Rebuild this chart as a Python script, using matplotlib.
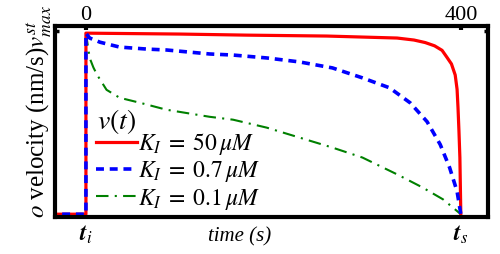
import matplotlib
matplotlib.use("Agg")
import matplotlib.pyplot as plt

plt.rcParams["font.family"] = ["Liberation Serif", "DejaVu Serif"]
plt.rcParams["mathtext.fontset"] = "stix"

# time (s) and normalised velocity
t_red = [-40, 0, 0, 100, 172, 257, 332, 350, 362, 372, 380, 385, 390, 394,
         396, 397, 398, 399, 400]
v_red = [0, 0, 1.0, 0.995, 0.989, 0.984, 0.973, 0.962, 0.948, 0.93, 0.905,
         0.868, 0.83, 0.769, 0.69, 0.588, 0.46, 0.313, 0.0]

t_blue = [-40, 0, 0, 4, 15, 36, 65, 86, 132, 157, 193, 228, 263, 295, 324, 346,
          364, 378, 388, 396, 400]
v_blue = [0, 0, 1.0, 0.973, 0.95, 0.923, 0.912, 0.907, 0.885, 0.879, 0.863,
          0.841, 0.808, 0.753, 0.698, 0.615, 0.511, 0.385, 0.258, 0.126, 0.0]

t_green = [0, 4, 8, 12, 22, 36, 58, 86, 132, 157, 193, 228, 263, 295, 332, 359,
           381, 400]
v_green = [1.0, 0.863, 0.81, 0.769, 0.687, 0.643, 0.615, 0.577, 0.538, 0.522,
           0.478, 0.423, 0.368, 0.313, 0.22, 0.148, 0.082, 0.0]

labels = [r"$K_I\;=\;50\,\mu M$", r"$K_I\;=\;0.7\,\mu M$", r"$K_I\;=\;0.1\,\mu M$"]
top_ticks = [0, 400]
t_start, t_end = 0, 400

fig = plt.figure(figsize=(5.0, 2.54), dpi=100)
ax = fig.add_axes([0.11, 0.146, 0.866, 0.752])

ax.plot(t_green, v_green, color="green", linewidth=1.5,
        linestyle=(0, (6, 3, 1, 3)), label=labels[2])
ax.plot(t_red, v_red, color="red", linewidth=2.3, label=labels[0])
ax.plot(t_blue, v_blue, color="blue", linewidth=2.6,
        linestyle=(0, (2.2, 1.6)), label=labels[1])

ax.set_xlim(-33, 429)
ax.set_ylim(-0.015, 1.04)

for s in ax.spines.values():
    s.set_linewidth(3)

ax.xaxis.tick_top()
ax.set_xticks(top_ticks)
ax.tick_params(axis="x", direction="in", length=3, width=3, labelsize=16, pad=1)
ax.set_yticks([1.01])
ax.tick_params(axis="y", direction="in", length=3, width=2.5, left=True,
               right=True, labelleft=False)

ax.text(t_start, -0.05, r"$\mathbfit{t}_i$", ha="center", va="top", fontsize=17)
ax.text(t_end, -0.05, r"$\mathbfit{t}_s$", ha="center", va="top", fontsize=17)
ax.text(0.5 * (t_start + t_end) - 36, -0.07, "time (s)", ha="center", va="top",
        fontsize=15, style="italic")

fig.text(39 / 500, 1 - 218 / 254, r"$o$ velocity (nm/s)$v_{max}^{st}$",
         rotation=90, ha="center", va="bottom", fontsize=18)

# legend title placed as its own text, entries below it
fig.text(97 / 500, 1 - 122 / 254, r"$v(t)$", ha="left", va="center", fontsize=20)
h, l = ax.get_legend_handles_labels()
order = [1, 2, 0]
ax.legend([h[i] for i in order], [l[i] for i in order],
          fontsize=17, frameon=False,
          loc="upper left", bbox_to_anchor=(96 / 500, 1 - 131 / 254),
          bbox_transform=fig.transFigure, borderpad=0, borderaxespad=0,
          handlelength=1.75, handletextpad=0.05, labelspacing=0.1)

fig.savefig("out.png", dpi=100)
